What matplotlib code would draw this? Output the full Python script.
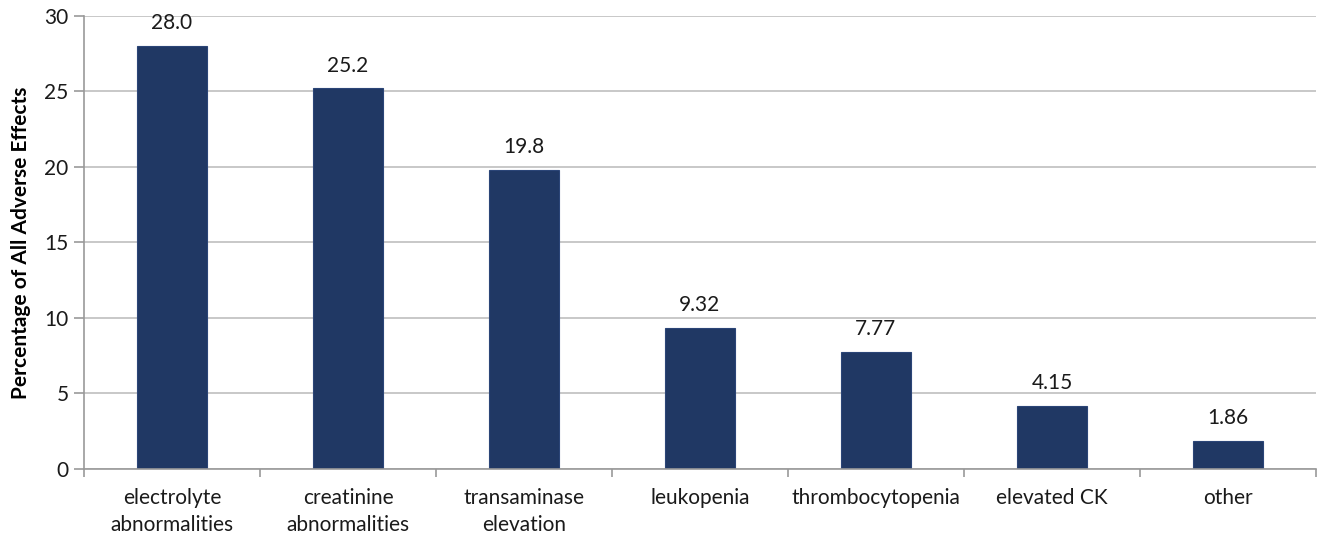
import matplotlib.pyplot as plt
import numpy as np

categories = ["electrolyte\nabnormalities", "creatinine\nabnormalities", "transaminase\nelevation",
              "leukopenia", "thrombocytopenia", "elevated CK", "other"]
values = [28.0, 25.2, 19.8, 9.32, 7.77, 4.15, 1.86]
value_labels = ["28.0", "25.2", "19.8", "9.32", "7.77", "4.15", "1.86"]
y_ticks = [0, 5, 10, 15, 20, 25, 30]

plt.rcParams['font.family'] = ['Lato', 'DejaVu Sans']

fig = plt.figure(figsize=(13.21, 5.4), dpi=100)
ax = fig.add_axes([0.0636, 0.1315, 0.9326, 0.8389])

x = np.arange(len(categories))
bars = ax.bar(x, values, width=0.4, color="#203864", edgecolor="#2b4577", linewidth=0.8, zorder=3)

for xi, v, lab in zip(x, values, value_labels):
    ax.text(xi, v + 0.85, lab, ha="center", va="bottom", fontsize=15, color="#1a1a1a")

ax.set_xlim(-0.5, len(categories) - 0.5)
ax.set_ylim(0, 30)
ax.set_yticks(y_ticks)
ax.yaxis.grid(True, color="#bfbfbf", linewidth=1.2, zorder=0)
ax.set_axisbelow(True)

# category labels centered, tick marks between categories
ax.set_xticks(x)
ax.set_xticklabels(categories, fontsize=15, color="#1a1a1a", linespacing=1.42)
ax.tick_params(axis="x", length=0, pad=14)
ax.set_xticks(np.arange(len(categories) + 1) - 0.5, minor=True)
ax.tick_params(axis="x", which="minor", length=6, color="#999999", width=1.2)
ax.tick_params(axis="y", length=7, color="#999999", width=1.2, labelsize=15, labelcolor="#1a1a1a", pad=4)

for s in ["top", "right"]:
    ax.spines[s].set_visible(False)
ax.spines["left"].set_color("#999999")
ax.spines["left"].set_linewidth(1.2)
ax.spines["bottom"].set_color("#999999")
ax.spines["bottom"].set_linewidth(1.2)
ax.spines["bottom"].set_zorder(4)

ax.set_ylabel("Percentage of All Adverse Effects", fontsize=15, fontweight="bold", labelpad=10)

fig.savefig("out.png", dpi=100)
